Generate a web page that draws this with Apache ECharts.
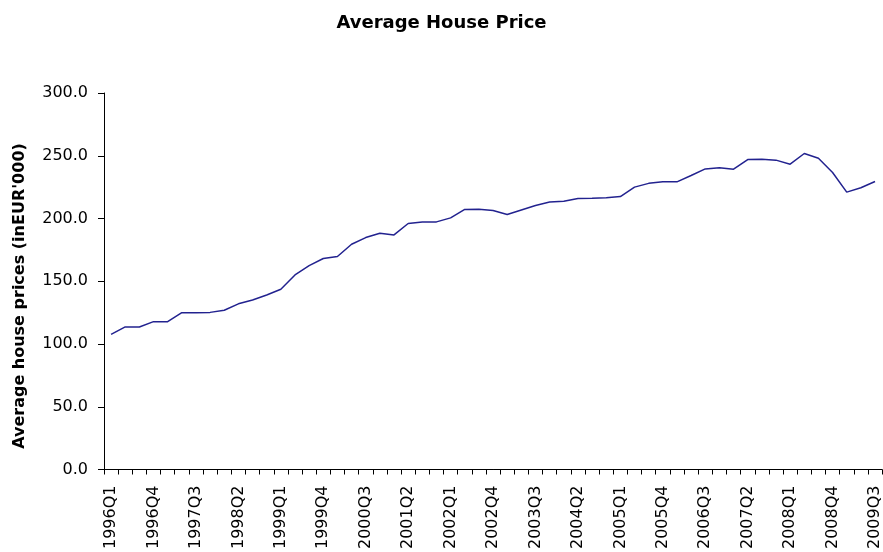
<!DOCTYPE html>
<html>
<head>
<meta charset="utf-8">
<title>Average House Price</title>
<script src="https://cdn.jsdelivr.net/npm/echarts@6/dist/echarts.min.js"></script>
<style>
  html, body { margin: 0; padding: 0; background: #fff; }
  #main { width: 883px; height: 552px; }
</style>
</head>
<body>
<div id="main"></div>
<script>
// quarters 1996Q1 .. 2009Q3
var quarters = [
    '1996Q1','1996Q2','1996Q3','1996Q4','1997Q1','1997Q2','1997Q3','1997Q4',
    '1998Q1','1998Q2','1998Q3','1998Q4','1999Q1','1999Q2','1999Q3','1999Q4',
    '2000Q1','2000Q2','2000Q3','2000Q4','2001Q1','2001Q2','2001Q3','2001Q4',
    '2002Q1','2002Q2','2002Q3','2002Q4','2003Q1','2003Q2','2003Q3','2003Q4',
    '2004Q1','2004Q2','2004Q3','2004Q4','2005Q1','2005Q2','2005Q3','2005Q4',
    '2006Q1','2006Q2','2006Q3','2006Q4','2007Q1','2007Q2','2007Q3','2007Q4',
    '2008Q1','2008Q2','2008Q3','2008Q4','2009Q1','2009Q2','2009Q3'
];

// average house price, EUR '000
var prices = [
    107.7, 113.6, 113.6, 117.8, 117.8, 125.0, 125.0, 125.2,
    126.9, 132.0, 135.1, 139.0, 143.6, 155.0, 162.5, 168.1,
    169.7, 179.5, 184.8, 188.3, 186.9, 196.0, 197.3, 197.3,
    200.5, 207.2, 207.4, 206.3, 203.2, 206.8, 210.4, 213.2,
    213.7, 215.9, 216.1, 216.6, 217.5, 225.0, 228.0, 229.2,
    229.2, 234.3, 239.5, 240.4, 239.3, 247.0, 247.3, 246.5,
    243.3, 251.8, 248.0, 236.7, 221.0, 224.5, 229.5
];

var yTicks = [0, 50, 100, 150, 200, 250, 300];

var myChart = echarts.init(document.getElementById('main'));

var option = {
    backgroundColor: '#fff',
    animation: false,
    title: {
        text: 'Average House Price',
        left: 'center',
        top: 9,
        textStyle: {
            fontFamily: 'DejaVu Sans',
            fontWeight: 'bold',
            fontSize: 18,
            color: '#000'
        }
    },
    grid: {
        left: 104,
        top: 93,
        width: 781,
        height: 377
    },
    graphic: [{
        type: 'text',
        x: 20,
        y: 296,
        rotation: Math.PI / 2,
        style: {
            text: "Average house prices (inEUR'000)",
            fill: '#000',
            font: 'bold 16px "DejaVu Sans"',
            textAlign: 'center',
            textVerticalAlign: 'middle'
        }
    }],
    xAxis: {
        type: 'category',
        data: quarters,
        boundaryGap: true,
        axisLine: { lineStyle: { color: '#000', width: 1 } },
        axisTick: {
            show: true,
            interval: 0,
            length: 5,
            lineStyle: { color: '#000' }
        },
        axisLabel: {
            interval: 2,
            rotate: 90,
            margin: 16,
            color: '#000',
            fontFamily: 'DejaVu Sans',
            fontSize: 16
        },
        splitLine: { show: false }
    },
    yAxis: {
        type: 'value',
        min: yTicks[0],
        max: yTicks[yTicks.length - 1],
        interval: 50,
        axisLine: { show: true, lineStyle: { color: '#000', width: 1 } },
        axisTick: { show: true, length: 6, lineStyle: { color: '#000' } },
        axisLabel: {
            margin: 16,
            color: '#000',
            fontFamily: 'DejaVu Sans',
            fontSize: 16,
            formatter: function (v) { return v.toFixed(1); }
        },
        splitLine: { show: false }
    },
    series: [{
        type: 'line',
        data: prices,
        symbol: 'none',
        lineStyle: { color: '#22228f', width: 1.5 }
    }]
};

myChart.setOption(option);
</script>
</body>
</html>
